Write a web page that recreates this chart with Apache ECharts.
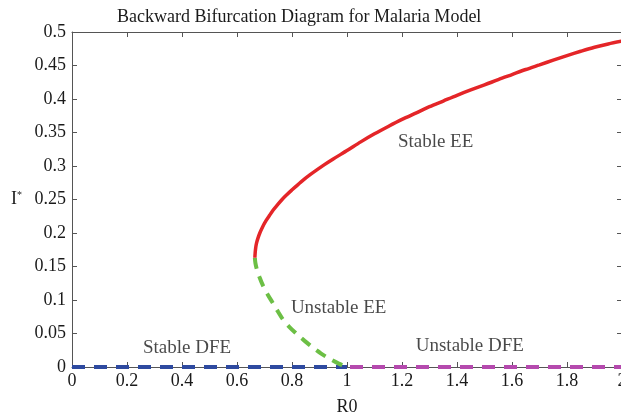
<!DOCTYPE html>
<html><head><meta charset="utf-8">
<script src="https://cdn.jsdelivr.net/npm/echarts@6/dist/echarts.min.js"></script>
<style>html,body{margin:0;padding:0;background:#fff}#c{width:621px;height:415px}</style>
</head><body><div id="c"></div>
<script>
const xTicks = [0, 0.2, 0.4, 0.6, 0.8, 1, 1.2, 1.4, 1.6, 1.8, 2];
const yTicks = [0, 0.05, 0.1, 0.15, 0.2, 0.25, 0.3, 0.35, 0.4, 0.45, 0.5];
const stableEE_R0 = [0.665, 0.666, 0.668, 0.671, 0.676, 0.683, 0.693, 0.705, 0.718, 0.731, 0.747, 0.764, 0.781, 0.799, 0.832, 0.866, 0.918, 0.95, 1.0, 1.05, 1.1, 1.15, 1.2, 1.25, 1.3, 1.35, 1.4, 1.45, 1.5, 1.55, 1.6, 1.65, 1.7, 1.75, 1.8, 1.85, 1.9, 1.95, 2.0];
const stableEE_I  = [0.163, 0.170, 0.178, 0.185, 0.192, 0.200, 0.209, 0.218, 0.226, 0.234, 0.242, 0.250, 0.257, 0.264, 0.276, 0.287, 0.302, 0.3105, 0.323, 0.336, 0.348, 0.359, 0.3695, 0.379, 0.3885, 0.397, 0.4055, 0.4135, 0.421, 0.429, 0.4365, 0.444, 0.451, 0.458, 0.4648, 0.4712, 0.4772, 0.4822, 0.4865];
const unstableEE_R0 = [0.665, 0.667, 0.672, 0.682, 0.695, 0.712, 0.731, 0.750, 0.767, 0.79, 0.818, 0.846, 0.876, 0.906, 0.938, 0.97, 1.0];
const unstableEE_I  = [0.163, 0.155, 0.146, 0.134, 0.121, 0.108, 0.095, 0.082, 0.071, 0.060, 0.049, 0.039, 0.029, 0.020, 0.012, 0.005, 0.0];
const stableDFE_R0 = [0, 1];
const stableDFE_I = [0, 0];
const unstableDFE_R0 = [1, 2];
const unstableDFE_I = [0, 0];
const labelTexts = ['Stable EE', 'Unstable EE', 'Stable DFE', 'Unstable DFE'];
const labelR0 = [1.185, 0.796, 0.258, 1.25];
const labelI = [0.336, 0.088, 0.028, 0.031];

const zip = (a, b) => a.map((v, i) => [v, b[i]]);
const FONT = 'Liberation Serif';
const chart = echarts.init(document.getElementById('c'));
const axisCommon = {
  type: 'value', min: 0, splitLine: {show: false},
  axisLine: {show: true, onZero: false, lineStyle: {color: '#555', width: 1}},
  axisTick: {show: true, inside: true, length: 5, lineStyle: {color: '#555'}},
};
chart.setOption({
  animation: false,
  backgroundColor: '#fff',
  title: {text: 'Backward Bifurcation Diagram for Malaria Model', left: 112, top: 3,
    textStyle: {fontFamily: FONT, fontSize: 18, fontWeight: 'normal', color: '#1a1a1a'}},
  grid: {left: 72, top: 32, width: 550, height: 335, outerBoundsMode: 'none', containLabel: false},
  xAxis: [
    Object.assign({}, axisCommon, {max: 2, interval: 0.2, position: 'bottom',
      name: 'R0', nameLocation: 'middle', nameGap: 31,
      nameTextStyle: {fontFamily: FONT, fontSize: 18, color: '#1a1a1a'},
      axisLabel: {fontFamily: FONT, fontSize: 18, color: '#1a1a1a', margin: 5,
        formatter: v => String(+v.toFixed(1))}}),
    Object.assign({}, axisCommon, {max: 2, interval: 0.2, position: 'top', axisLabel: {show: false}})
  ],
  yAxis: [
    Object.assign({}, axisCommon, {max: 0.5, interval: 0.05, position: 'left',
      name: '{i|I}{s|*}', nameLocation: 'middle', nameGap: 50, nameRotate: 0,
      nameTextStyle: {rich: {i: {fontFamily: FONT, fontSize: 18, color: '#1a1a1a'}, s: {fontFamily: FONT, fontSize: 10, color: '#1a1a1a', verticalAlign: 'top', padding: [0,0,8,0]}}},
      axisLabel: {fontFamily: FONT, fontSize: 18, color: '#1a1a1a', margin: 6,
        formatter: v => String(+v.toFixed(2))}}),
    Object.assign({}, axisCommon, {max: 0.5, interval: 0.05, position: 'right', axisLabel: {show: false}})
  ],
  series: [
    {type: 'line', data: zip(stableDFE_R0, stableDFE_I), symbol: 'none',
      lineStyle: {color: '#2e4aa0', width: 4, type: [13, 9]}, z: 3},
    {type: 'line', data: zip(unstableDFE_R0, unstableDFE_I), symbol: 'none',
      lineStyle: {color: '#b54aae', width: 4, type: [13, 9], dashOffset: -3}, z: 3},
    {type: 'line', data: zip(unstableEE_R0, unstableEE_I), symbol: 'none', smooth: 0.3,
      lineStyle: {color: '#6cbf45', width: 4, type: [11, 8]}, z: 4},
    {type: 'line', data: zip(stableEE_R0, stableEE_I), symbol: 'none', smooth: 0.3,
      lineStyle: {color: '#e42528', width: 3.5}, z: 5},
    {type: 'scatter', symbolSize: 0, z: 6, silent: true,
      data: labelTexts.map((t, i) => ({value: [labelR0[i], labelI[i]], name: t})),
      label: {show: true, position: 'right', distance: 0, formatter: p => p.name,
        fontFamily: FONT, fontSize: 19, color: '#1a1a1a'}}
  ]
});
</script></body></html>
